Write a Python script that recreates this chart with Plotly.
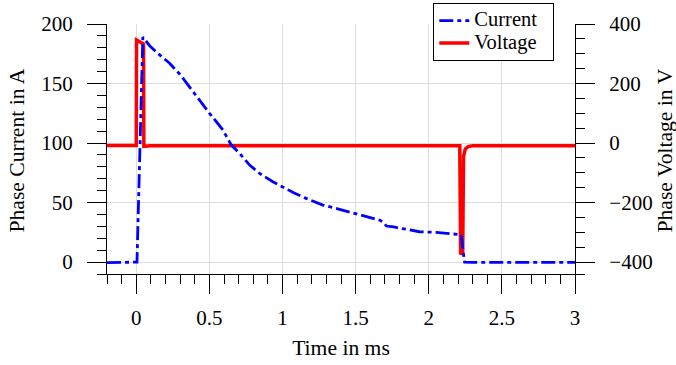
import plotly.graph_objects as go

# ---- data ----
time_current = [-0.2, -0.1, 0.0, 0.005, 0.045, 0.09, 0.137, 0.228, 0.30, 0.364, 0.433,
                0.501, 0.56, 0.592, 0.649, 0.707, 0.775, 0.843, 0.934, 1.0, 1.08,
                1.162, 1.276, 1.39, 1.504, 1.595, 1.663, 1.69, 1.71, 1.76, 1.82,
                1.936, 2.05, 2.198, 2.222, 2.232, 2.245, 2.3, 2.6, 3.0]
current = [-0.5, -0.3, -0.3, 0.0, 189, 182, 176.5, 167, 157.5, 147, 136,
           125, 116, 111, 98.5, 91.3, 81.5, 74.5, 67.5, 63.3, 58,
           53.5, 47.9, 44.3, 40.3, 37.5, 35.3, 33.5, 30.3, 29.5, 28.3,
           25.5, 25, 23.5, 23, 12, 0, -0.3, -0.4, -0.3]

time_voltage = [-0.2, 0.0, 0.002, 0.02, 0.045, 0.05, 0.052, 0.1, 1.0, 2.212,
                2.218, 2.232, 2.238, 2.25, 2.27, 2.3, 3.0]
voltage = [-8, -8, 346, 340, 334, 333, -11, -9, -9, -9,
           -370, -372, -45, -20, -12, -9, -9]

x_ticks = [0, 0.5, 1, 1.5, 2, 2.5, 3]
x_ticktext = ["0", "0.5", "1", "1.5", "2", "2.5", "3"]
current_ticks = [0, 50, 100, 150, 200]
voltage_ticks = [-400, -200, 0, 200, 400]
voltage_ticktext = ["\u2212400", "\u2212200", "0", "200", "400"]

x_range = [-0.2, 3]
current_range = [-10, 200]
voltage_range = [-440, 400]

FONT = "Liberation Serif"
TICK_SIZE = 21
TITLE_SIZE = 21.6
LEGEND_TEXT = 20.5


def legend_name(s, pad=""):
    return "<span style='font-size:%spx'>%s%s</span>" % (LEGEND_TEXT, s, pad)


fig = go.Figure()
fig.add_trace(go.Scatter(
    x=time_current, y=current, name=legend_name("Current", "&nbsp;&nbsp;"), mode="lines",
    line=dict(color="#0000ff", width=2.8, dash="14px,4px,4px,4px"),
    yaxis="y2"))
fig.add_trace(go.Scatter(
    x=time_voltage, y=voltage, name=legend_name("Voltage"), mode="lines",
    line=dict(color="#ff0000", width=3.5),
    yaxis="y"))

minor_v = [v for v in range(-400, 401, 50)] + [-440]

tick_common = dict(ticks="outside", ticklen=19, tickwidth=1.3, tickcolor="black",
                   showline=True, linecolor="black", linewidth=1.3,
                   zeroline=False, tickfont=dict(size=TICK_SIZE, family=FONT))

W, H = 676, 365
L, R, T, B = 107, 101, 24, 91
plot_w = W - L - R
plot_h = H - T - B

fig.update_layout(
    width=W, height=H,
    margin=dict(l=L, r=R, t=T, b=B, autoexpand=False),
    paper_bgcolor="white", plot_bgcolor="white",
    font=dict(family=FONT, size=TICK_SIZE, color="black"),
    showlegend=True,
    legend=dict(xref="container", yref="container",
                x=433 / W, y=1 - 3 / H, xanchor="left", yanchor="top",
                bgcolor="white", bordercolor="black", borderwidth=1.3,
                font=dict(size=15, family=FONT), traceorder="normal"),
    xaxis=dict(range=x_range, tickvals=x_ticks, ticktext=x_ticktext,
               showgrid=True, gridcolor="#dedede", gridwidth=1.2,
               ticklabelstandoff=6,
               minor=dict(dtick=0.1, tick0=0, ticks="outside", ticklen=9,
                          tickwidth=1.3, tickcolor="black", showgrid=False),
               title=dict(text="Time in ms", standoff=10,
                          font=dict(size=TITLE_SIZE, family=FONT)),
               **tick_common),
    yaxis=dict(range=voltage_range, side="right",
               tickvals=voltage_ticks, ticktext=voltage_ticktext,
               showgrid=True, gridcolor="#dedede", gridwidth=1.2,
               ticklabelstandoff=10,
               minor=dict(tickvals=minor_v, ticks="outside", ticklen=9,
                          tickwidth=1.3, tickcolor="black", showgrid=False),
               **tick_common),
    yaxis2=dict(range=current_range, side="left", overlaying="y",
                tickvals=current_ticks,
                showgrid=False, ticklabelstandoff=10,
                minor=dict(dtick=10, tick0=0, ticks="outside", ticklen=9,
                           tickwidth=1.3, tickcolor="black", showgrid=False),
                **tick_common),
    annotations=[
        dict(text="Phase Current in A", xref="paper", yref="paper",
             x=(16 - L) / plot_w, y=(274 - 150.5) / 250,
             xanchor="center", yanchor="middle", textangle=-90, showarrow=False,
             font=dict(size=TITLE_SIZE, family=FONT, color="black")),
        dict(text="Phase Voltage in V", xref="paper", yref="paper",
             x=(664 - L) / plot_w, y=(274 - 150.5) / 250,
             xanchor="center", yanchor="middle", textangle=-90, showarrow=False,
             font=dict(size=TITLE_SIZE, family=FONT, color="black")),
    ],
)

fig.write_html("out.html", config={"displayModeBar": False},
               post_script="document.body.style.margin='0';")
